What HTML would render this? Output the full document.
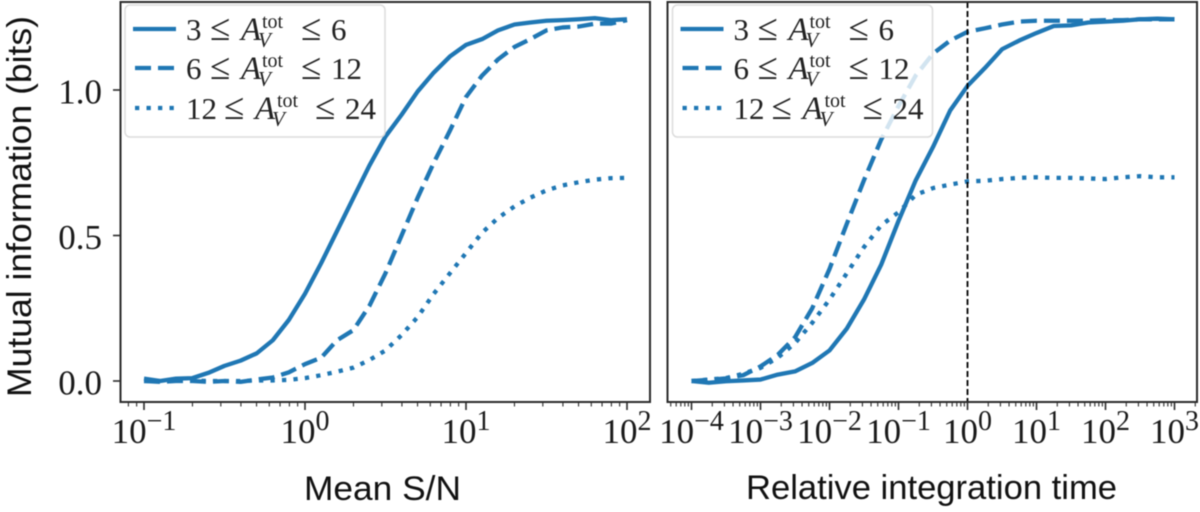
<!DOCTYPE html>
<html lang="en">
<head>
<meta charset="utf-8">
<title>Mutual information charts</title>
<style>
html,body{margin:0;padding:0;background:#fff;width:1200px;height:512px;overflow:hidden}
svg{display:block;filter:blur(0.45px)}
.tick-label{font-family:"Liberation Serif",serif;font-size:35px;fill:#1a1a1a}
.axis-title{font-family:"Liberation Sans",sans-serif;font-size:34px;fill:#111}
.lg{font-family:"Liberation Serif",serif;font-size:31px;fill:#222}
.lg-i{font-style:italic;font-size:33px}
.lg-s{font-size:20px}
.lg-v{font-style:italic;font-size:21px}
.lg-o{font-size:37px}
</style>
</head>
<body>
<svg id="chart" xmlns="http://www.w3.org/2000/svg" width="1200" height="512" viewBox="0 0 1200 512">
  <rect width="1200" height="512" fill="#fff"/>
  <g id="left-panel"></g>
  <g id="right-panel"></g>

  <text class="axis-title" transform="translate(31,397) rotate(-90)" textLength="381" lengthAdjust="spacingAndGlyphs">Mutual information (bits)</text>
  <text class="axis-title" x="304" y="500" textLength="157" lengthAdjust="spacingAndGlyphs">Mean S/N</text>
  <text class="axis-title" x="746" y="499" textLength="371" lengthAdjust="spacingAndGlyphs">Relative integration time</text>

  <g id="left-legend">
    <rect x="125" y="5" width="260" height="132" rx="5" fill="#fff" fill-opacity=".8" stroke="#dcdcdc" stroke-width="1.5"/>
    <line x1="133" x2="176" y1="29" y2="29" stroke="#1f77b4" stroke-width="4.3"/>
    <line x1="135" x2="175" y1="68" y2="68" stroke="#1f77b4" stroke-width="4.3" stroke-dasharray="16,7"/>
    <line x1="135" x2="175" y1="108" y2="108" stroke="#1f77b4" stroke-width="4.3" stroke-dasharray="4.3,7.2"/>
    <text class="lg" y="40"><tspan x="186">3</tspan><tspan x="210" class="lg-o">≤</tspan><tspan x="241" class="lg-i">A</tspan><tspan x="262" y="28" class="lg-s">tot</tspan><tspan x="258" y="47" class="lg-v">V</tspan><tspan x="301" y="40" class="lg-o">≤</tspan><tspan x="331">6</tspan></text>
    <text class="lg" y="79"><tspan x="186">6</tspan><tspan x="210" class="lg-o">≤</tspan><tspan x="241" class="lg-i">A</tspan><tspan x="262" y="67" class="lg-s">tot</tspan><tspan x="258" y="86" class="lg-v">V</tspan><tspan x="301" y="79" class="lg-o">≤</tspan><tspan x="331">12</tspan></text>
    <text class="lg" y="119"><tspan x="186">12</tspan><tspan x="224" class="lg-o">≤</tspan><tspan x="255" class="lg-i">A</tspan><tspan x="277" y="107" class="lg-s">tot</tspan><tspan x="272" y="126" class="lg-v">V</tspan><tspan x="315" y="119" class="lg-o">≤</tspan><tspan x="345">24</tspan></text>
  </g>
  <g id="right-legend" transform="translate(547.5,0)">
    <rect x="125" y="5" width="260" height="132" rx="5" fill="#fff" fill-opacity=".8" stroke="#dcdcdc" stroke-width="1.5"/>
    <line x1="133" x2="176" y1="29" y2="29" stroke="#1f77b4" stroke-width="4.3"/>
    <line x1="135" x2="175" y1="68" y2="68" stroke="#1f77b4" stroke-width="4.3" stroke-dasharray="16,7"/>
    <line x1="135" x2="175" y1="108" y2="108" stroke="#1f77b4" stroke-width="4.3" stroke-dasharray="4.3,7.2"/>
    <text class="lg" y="40"><tspan x="186">3</tspan><tspan x="210" class="lg-o">≤</tspan><tspan x="241" class="lg-i">A</tspan><tspan x="262" y="28" class="lg-s">tot</tspan><tspan x="258" y="47" class="lg-v">V</tspan><tspan x="301" y="40" class="lg-o">≤</tspan><tspan x="331">6</tspan></text>
    <text class="lg" y="79"><tspan x="186">6</tspan><tspan x="210" class="lg-o">≤</tspan><tspan x="241" class="lg-i">A</tspan><tspan x="262" y="67" class="lg-s">tot</tspan><tspan x="258" y="86" class="lg-v">V</tspan><tspan x="301" y="79" class="lg-o">≤</tspan><tspan x="331">12</tspan></text>
    <text class="lg" y="119"><tspan x="186">12</tspan><tspan x="224" class="lg-o">≤</tspan><tspan x="255" class="lg-i">A</tspan><tspan x="277" y="107" class="lg-s">tot</tspan><tspan x="272" y="126" class="lg-v">V</tspan><tspan x="315" y="119" class="lg-o">≤</tspan><tspan x="345">24</tspan></text>
  </g>
</svg>
<script>
// Left panel data
const snrValues = [0.1,0.126,0.158,0.2,0.251,0.316,0.398,0.501,0.631,0.794,1,1.26,1.58,2,2.51,3.16,3.98,5.01,6.31,7.94,10,12.6,15.8,20,25.1,31.6,39.8,50.1,63.1,79.4,100];
const snrLow = [0.008,0,0.008,0.01,0.028,0.052,0.07,0.095,0.14,0.21,0.30,0.405,0.515,0.63,0.74,0.84,0.915,0.995,1.06,1.115,1.155,1.175,1.205,1.225,1.232,1.238,1.24,1.243,1.247,1.24,1.243];
const snrMid = [0,-0.003,0,0,-0.003,0,-0.003,0.005,0.012,0.03,0.058,0.08,0.14,0.175,0.258,0.37,0.50,0.63,0.75,0.86,0.976,1.05,1.105,1.148,1.175,1.205,1.215,1.218,1.228,1.228,1.24];
const snrHigh = [0,0,0,0.002,0,0,0,0.002,0.002,0.004,0.01,0.02,0.032,0.046,0.072,0.105,0.158,0.22,0.30,0.37,0.44,0.51,0.56,0.60,0.63,0.655,0.672,0.683,0.692,0.697,0.698];
// Right panel data
const timeValues = [1e-4,1.78e-4,3.16e-4,5.62e-4,1e-3,1.78e-3,3.16e-3,5.62e-3,1e-2,1.78e-2,3.16e-2,5.62e-2,0.1,0.178,0.316,0.562,1,1.78,3.16,5.62,10,17.8,31.6,56.2,100,178,316,562,1000];
const timeLow = [0,-0.006,-0.001,0.002,0.005,0.022,0.033,0.062,0.105,0.18,0.28,0.40,0.55,0.69,0.804,0.93,1.014,1.075,1.14,1.17,1.196,1.22,1.222,1.232,1.235,1.238,1.243,1.245,1.243];
const timeMid = [0,0.004,0.009,0.02,0.05,0.09,0.15,0.25,0.385,0.54,0.69,0.83,0.945,1.05,1.125,1.17,1.2,1.212,1.225,1.235,1.238,1.238,1.238,1.238,1.24,1.24,1.243,1.243,1.243];
const timeHigh = [0,0.005,0.01,0.025,0.045,0.08,0.13,0.2,0.28,0.37,0.46,0.535,0.58,0.64,0.663,0.675,0.686,0.688,0.694,0.698,0.70,0.698,0.698,0.696,0.694,0.70,0.704,0.70,0.70];
// Tick labels
const leftExponents = ["−1","0","1","2"];
const rightExponents = ["−4","−3","−2","−1","0","1","2","3"];
const yTickValues = [0,0.5,1];
const yTickLabels = ["0.0","0.5","1.0"];
const referenceTime = 1;

const NS = 'http://www.w3.org/2000/svg';
const COLOR = '#1f77b4';
const INK = '#2b2b2b';
const yScale = v => 381 - 291 * v;
const leftX = v => 305 + 161 * Math.log10(v);
const rightX = v => 967.5 + 69 * Math.log10(v);
const styles = {
  solid: '',
  dashed: '16,7',
  dotted: '4.3,7.2'
};

function make(parent, tag, attrs) {
  const el = document.createElementNS(NS, tag);
  for (const k in attrs) el.setAttribute(k, attrs[k]);
  parent.appendChild(el);
  return el;
}

function drawSeries(group, xs, ys, xScale, style, name) {
  const pts = xs.map((x, i) => xScale(x).toFixed(2) + ',' + yScale(ys[i]).toFixed(2)).join(' ');
  const line = make(group, 'polyline', {
    points: pts, fill: 'none', stroke: COLOR, 'stroke-width': 4.3, 'stroke-linejoin': 'round'
  });
  if (styles[style]) line.setAttribute('stroke-dasharray', styles[style]);
  
  
}

function drawXTicks(group, xScale, exps, x0, x1) {
  const bottom = 402;
  for (let e = -6; e <= 4; e++) {
    for (let m = 1; m <= 9; m++) {
      const v = m * Math.pow(10, e);
      const px = xScale(v);
      if (px < x0 || px > x1) continue;
      const t = make(group, 'line', {
        x1: px, x2: px, y1: bottom, y2: bottom + (m === 1 ? 8 : 4.5),
        stroke: INK, 'stroke-width': m === 1 ? 1.6 : 1.1
      });
      
      
    }
  }
  exps.forEach(exp => {
    const val = Math.pow(10, Number(exp.replace('−', '-')));
    const lab = make(group, 'text', { x: xScale(val), y: 443, 'text-anchor': 'middle', class: 'tick-label' });
    
    
    const base = make(lab, 'tspan', {});
    base.textContent = '10';
    const sup = make(lab, 'tspan', { dy: -13, 'font-size': 28 });
    sup.textContent = exp;
  });
}

function drawFrame(group, x0, x1, name) {
  const r = make(group, 'rect', {
    x: x0, y: 2, width: x1 - x0, height: 400, fill: 'none', stroke: INK, 'stroke-width': 2
  });
  
  
}

// Left panel
const lg = document.getElementById('left-panel');
drawSeries(lg, snrValues, snrLow, leftX, 'solid', 'left-series-low-extinction');
drawSeries(lg, snrValues, snrMid, leftX, 'dashed', 'left-series-mid-extinction');
drawSeries(lg, snrValues, snrHigh, leftX, 'dotted', 'left-series-high-extinction');
drawXTicks(lg, leftX, leftExponents, 120.5, 650);
drawFrame(lg, 120.5, 650, 'left-axes-frame');
yTickValues.forEach((v, i) => {
  const t = make(lg, 'line', { x1: 113, x2: 120.5, y1: yScale(v), y2: yScale(v), stroke: INK, 'stroke-width': 1.6 });
  
  
  const lab = make(lg, 'text', { x: 102, y: yScale(v) + 13.5, 'text-anchor': 'end', class: 'tick-label' });
  
  
  lab.textContent = yTickLabels[i];
});

// Right panel
const rg = document.getElementById('right-panel');
drawSeries(rg, timeValues, timeLow, rightX, 'solid', 'right-series-low-extinction');
drawSeries(rg, timeValues, timeMid, rightX, 'dashed', 'right-series-mid-extinction');
drawSeries(rg, timeValues, timeHigh, rightX, 'dotted', 'right-series-high-extinction');
const refLine = make(rg, 'line', {
  x1: rightX(referenceTime), x2: rightX(referenceTime), y1: 2, y2: 402,
  stroke: '#000', 'stroke-width': 1.8, 'stroke-dasharray': '6,3'
});


drawXTicks(rg, rightX, rightExponents, 667.5, 1197);
drawFrame(rg, 667.5, 1197, 'right-axes-frame');
</script>
</body>
</html>
